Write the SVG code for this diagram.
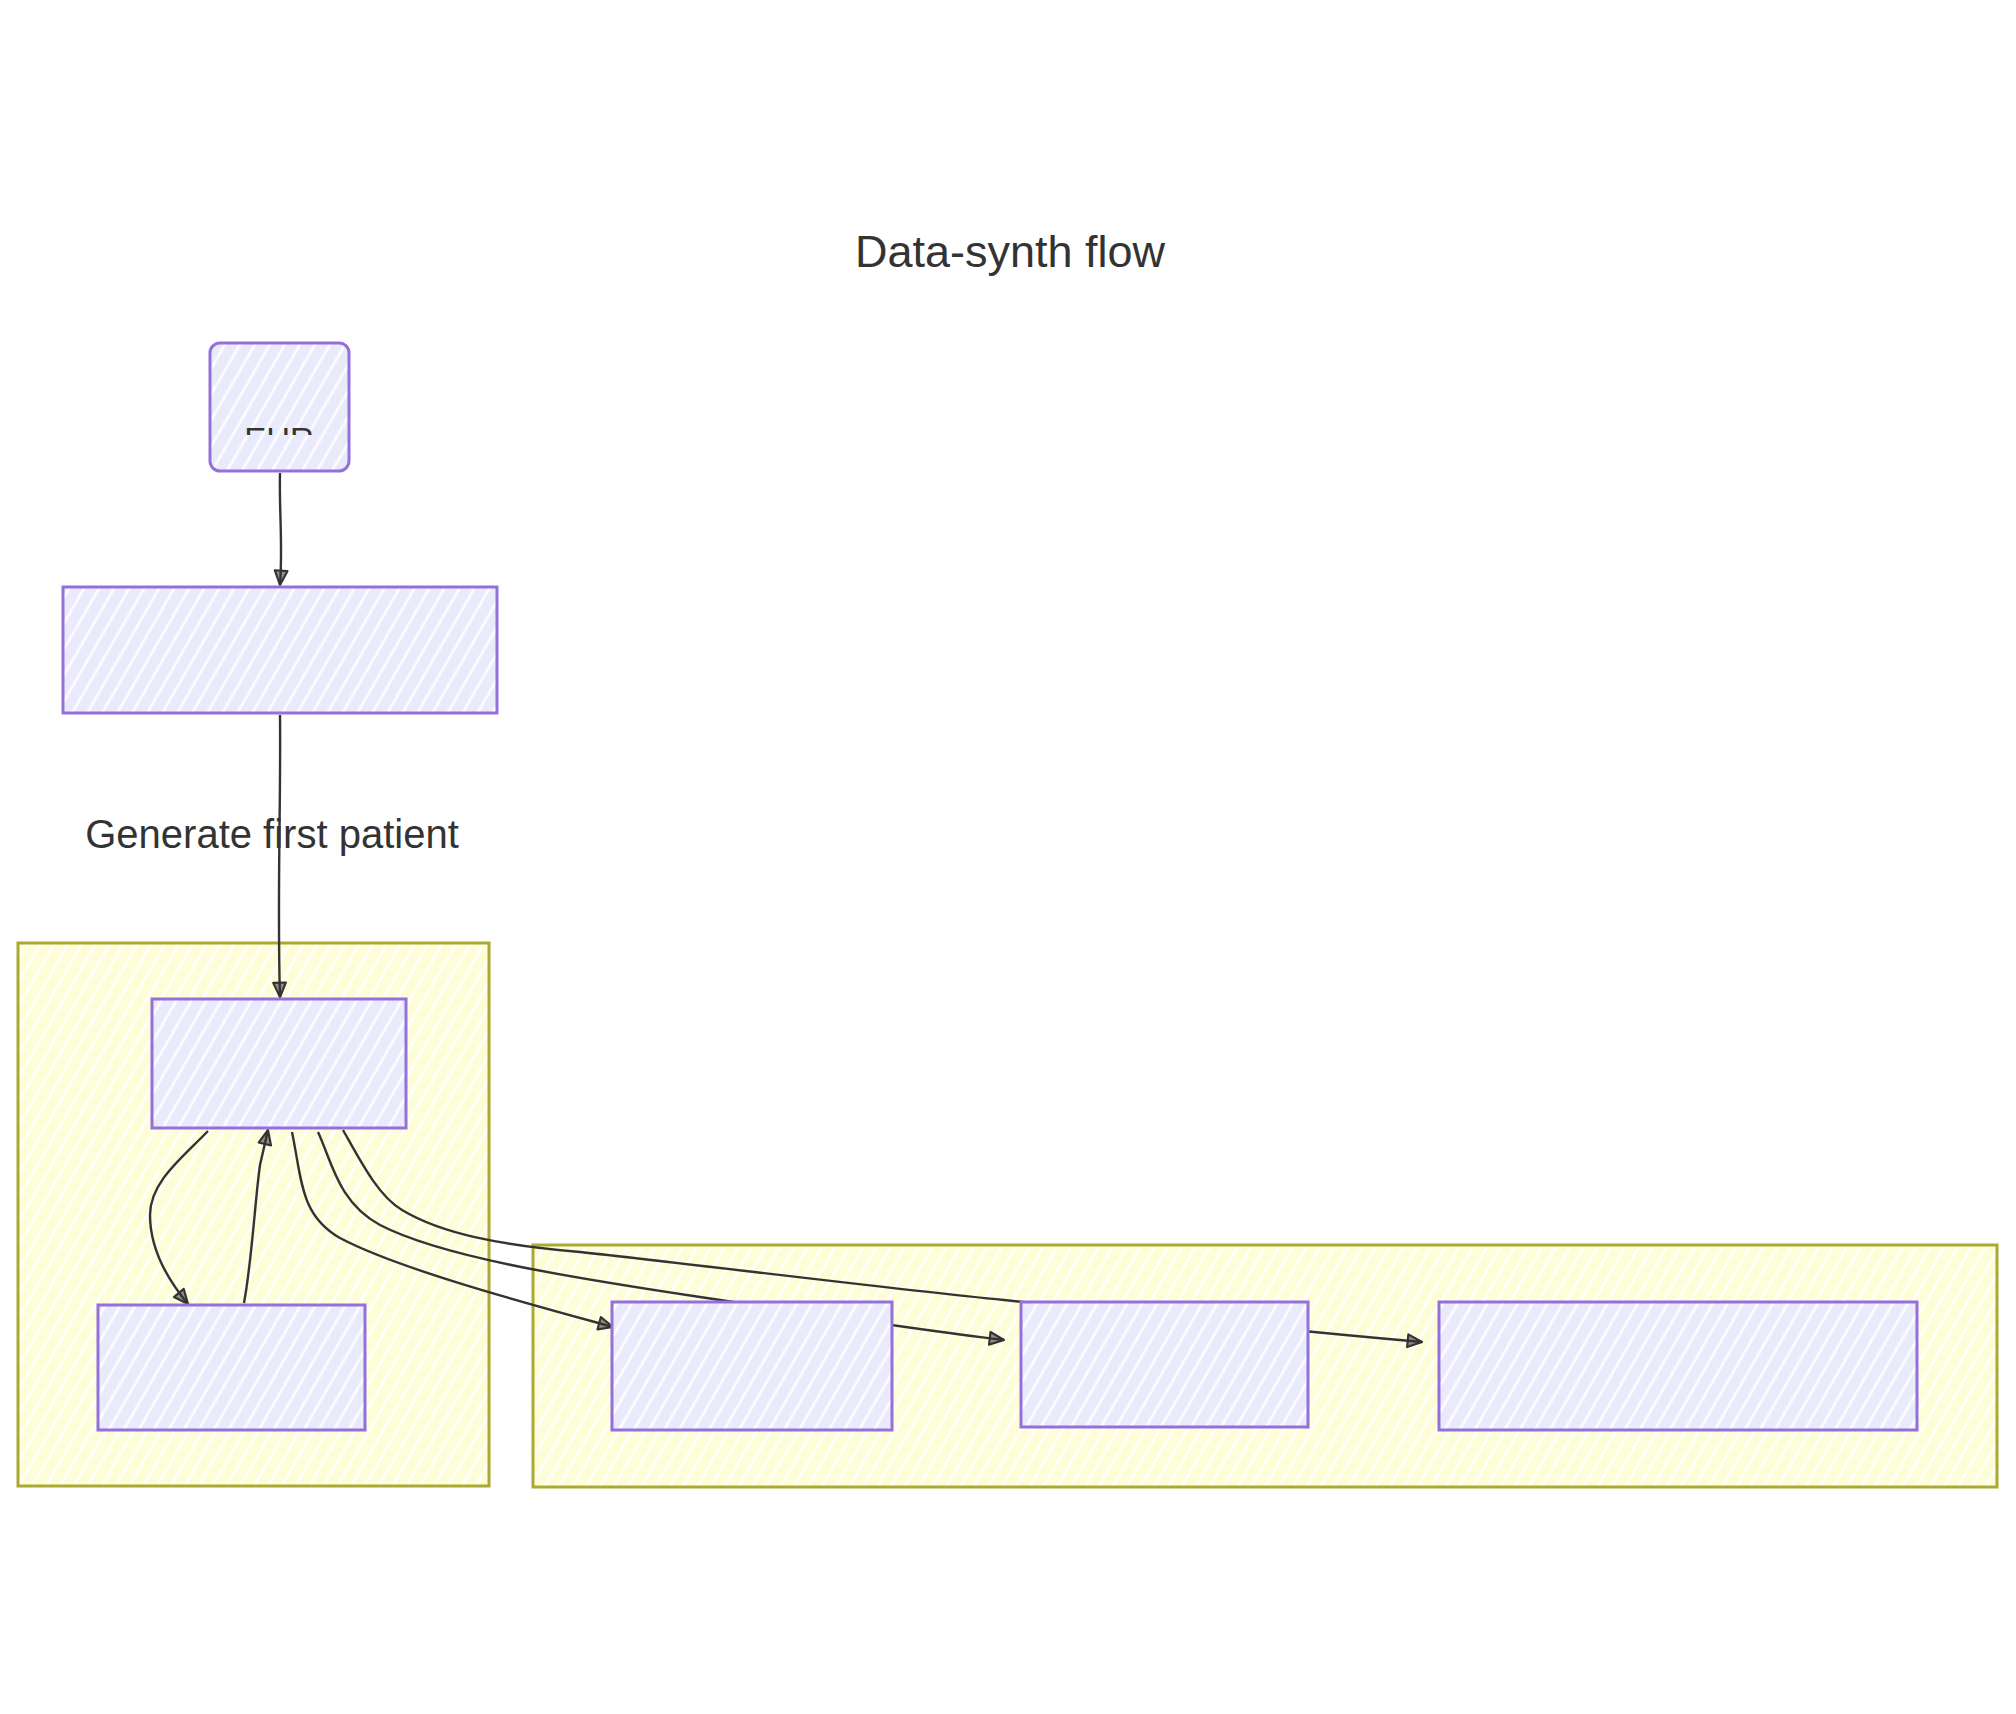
<svg xmlns="http://www.w3.org/2000/svg" width="2016" height="1714" viewBox="0 0 2016 1714">
<style>
.node{fill:url(#hN);stroke:#9370DB;stroke-width:3}
.cluster{fill:url(#hC);stroke:#AAAA33;stroke-width:3}
.edge{fill:none;stroke:#333;stroke-width:2.4;marker-end:url(#arrow)}
.lbl{font-family:"Liberation Sans",Arial,sans-serif;fill:#333}
</style>
<defs>
<pattern id="hN" width="13" height="13" patternUnits="userSpaceOnUse" patternTransform="rotate(30)">
<rect width="13" height="13" fill="#EAEAFD"/>
<line x1="3" y1="0" x2="3" y2="13" stroke="#fff" stroke-width="2.6" opacity="0.9"/>
</pattern>
<pattern id="hC" width="12" height="12" patternUnits="userSpaceOnUse" patternTransform="rotate(30)">
<rect width="12" height="12" fill="#FDFDD8"/>
<line x1="3" y1="0" x2="3" y2="12" stroke="#fff" stroke-width="2.6" opacity="0.95"/>
</pattern>
<marker id="arrow" viewBox="0 0 16 16" refX="15" refY="8" markerWidth="17" markerHeight="17" markerUnits="userSpaceOnUse" orient="auto">
<path d="M1.5,2 L15,8 L1.5,14 Z" fill="#333" fill-opacity="0.55" stroke="#333" stroke-width="2" stroke-linejoin="round"/>
</marker>
<clipPath id="ehrClip"><rect x="200" y="420" width="160" height="15"/></clipPath>
</defs>
<rect width="2016" height="1714" fill="#fff"/>

<text class="lbl" x="1010" y="267" font-size="45" text-anchor="middle">Data-synth flow</text>

<g id="sg-left">
<rect class="cluster" x="18" y="943" width="471" height="543"/>
</g>
<g id="sg-right">
<rect class="cluster" x="533" y="1245" width="1464" height="242"/>
</g>

<g id="connectors">
<path class="edge" d="M280,473 C279,510 283,545 280,585"/>
<path class="edge" d="M280,715 C281,800 277,900 280,997"/>
<path class="edge" d="M208,1131 C182,1158 150,1182 150,1215 C150,1250 168,1280 188,1304"/>
<path class="edge" d="M244,1303 C252,1260 255,1200 260,1165 L268,1130"/>
<path class="edge" d="M292,1132 C302,1180 300,1215 340,1238 C400,1270 540,1307 613,1327"/>
<path class="edge" d="M318,1132 C332,1162 338,1202 380,1225 C440,1256 560,1276 700,1297 C820,1315 920,1330 1004,1340"/>
<path class="edge" d="M343,1130 C360,1160 378,1196 402,1210 C442,1234 500,1245 580,1252 C700,1265 900,1290 1004,1300 C1150,1316 1300,1331 1422,1342"/>
</g>

<g id="n-ehr">
<rect class="node" x="210" y="343" width="139" height="128" rx="10" ry="10" stroke-width="3.8"/>
<text class="lbl" x="279" y="451" font-size="33" text-anchor="middle" clip-path="url(#ehrClip)">EHR</text>
</g>
<g id="n-load">
<rect class="node" x="63" y="587" width="434" height="126"/>
</g>
<g id="n-gen">
<rect class="node" x="152" y="999" width="254" height="129"/>
</g>
<g id="n-loop">
<rect class="node" x="98" y="1305" width="267" height="125"/>
</g>
<g id="n-post1">
<rect class="node" x="612" y="1302" width="280" height="128"/>
</g>
<g id="n-post2">
<rect class="node" x="1021" y="1302" width="287" height="125"/>
</g>
<g id="n-post3">
<rect class="node" x="1439" y="1302" width="478" height="128"/>
</g>

<text class="lbl" x="272" y="848" font-size="40" text-anchor="middle">Generate first patient</text>
</svg>
